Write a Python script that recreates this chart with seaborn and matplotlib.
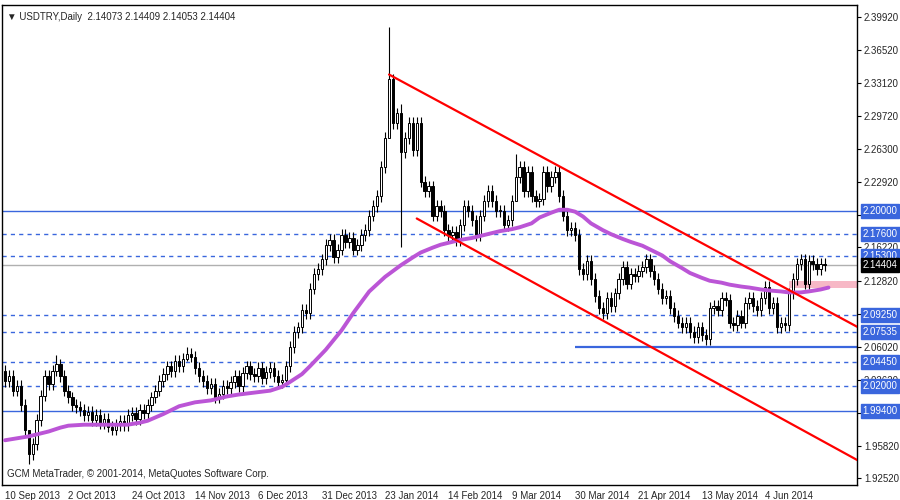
import numpy as np
import pandas as pd
import matplotlib
matplotlib.use("Agg")
import matplotlib.pyplot as plt
import seaborn as sns

# daily closes, USDTRY (one per bar)
closes = [
    2.025, 2.030, 2.015, 2.020, 2.000, 1.975, 1.950, 1.960, 1.985, 2.010,
    2.030, 2.022, 2.035, 2.042, 2.030, 2.015, 2.008, 2.000, 1.998, 1.995,
    1.990, 1.993, 1.985, 1.990, 1.982, 1.986, 1.978, 1.975, 1.980, 1.984,
    1.980, 1.990, 1.992, 1.986, 1.995, 1.992, 2.000, 2.008, 2.015, 2.025,
    2.032, 2.040, 2.035, 2.046, 2.040, 2.048, 2.053, 2.050, 2.038, 2.030,
    2.025, 2.018, 2.022, 2.008, 2.012, 2.020, 2.018, 2.024, 2.030, 2.020,
    2.033, 2.040, 2.032, 2.030, 2.038, 2.028, 2.034, 2.038, 2.030, 2.024,
    2.026, 2.040, 2.060, 2.075, 2.080, 2.098, 2.095, 2.120, 2.135, 2.140,
    2.150, 2.165, 2.170, 2.152, 2.160, 2.175, 2.168, 2.172, 2.160, 2.165,
    2.175, 2.180, 2.195, 2.205, 2.215, 2.245, 2.275, 2.335, 2.290, 2.300,
    2.260, 2.275, 2.290, 2.262, 2.290, 2.230, 2.220, 2.225, 2.195, 2.205,
    2.200, 2.180, 2.175, 2.178, 2.170, 2.185, 2.205, 2.200, 2.190, 2.175,
    2.195, 2.210, 2.220, 2.210, 2.200, 2.200, 2.185, 2.190, 2.210, 2.235,
    2.245, 2.220, 2.240, 2.215, 2.210, 2.212, 2.240, 2.225, 2.235, 2.240,
    2.215, 2.195, 2.180, 2.182, 2.175, 2.140, 2.135, 2.148, 2.130, 2.112,
    2.100, 2.095, 2.110, 2.102, 2.115, 2.130, 2.142, 2.125, 2.135, 2.133,
    2.138, 2.142, 2.150, 2.138, 2.130, 2.120, 2.110, 2.112, 2.100, 2.092,
    2.085, 2.080, 2.085, 2.075, 2.070, 2.080, 2.072, 2.068, 2.100, 2.102,
    2.098, 2.110, 2.108, 2.085, 2.082, 2.092, 2.085, 2.105, 2.110, 2.102,
    2.098, 2.110, 2.122, 2.100, 2.105, 2.080, 2.085, 2.082, 2.115, 2.130,
    2.145, 2.150, 2.125, 2.148, 2.145, 2.140, 2.145, 2.14404,
]
first_open = 2.035
wick = 0.006
# bars with long wicks: index -> (high, low)
spikes = {6: (1.965, 1.940), 97: (2.389, 2.300), 100: (2.310, 2.163),
          13: (2.052, 2.030), 46: (2.060, 2.045), 129: (2.258, 2.215)}

# moving average: (bar index, value)
ma_bars = [0, 3, 6, 9, 11, 14, 16, 20, 24, 28, 31, 34, 36, 40, 44, 48, 52, 56, 59, 63,
           67, 70, 72, 75, 77, 81, 85, 88, 92, 96, 100, 103, 105, 108, 110, 113,
           115, 118, 120, 123, 125, 128, 130, 133, 135, 138, 140, 142, 144, 146,
           148, 151, 153, 156, 158, 161, 163, 166, 168, 171, 173, 176, 178, 181,
           183, 186, 188, 191, 193, 196, 198, 201, 203, 206, 208]
ma_vals = [1.964, 1.966, 1.968, 1.971, 1.973, 1.977, 1.979, 1.980, 1.980, 1.980,
           1.980, 1.982, 1.984, 1.991, 1.999, 2.003, 2.005, 2.009, 2.011, 2.013,
           2.015, 2.019, 2.024, 2.032, 2.040, 2.057, 2.077, 2.095, 2.117, 2.132,
           2.144, 2.152, 2.157, 2.162, 2.165, 2.168, 2.170, 2.172, 2.174, 2.177,
           2.179, 2.181, 2.183, 2.187, 2.193, 2.198, 2.201, 2.201, 2.199, 2.194,
           2.187, 2.180, 2.176, 2.171, 2.168, 2.164, 2.160, 2.154, 2.148, 2.141,
           2.136, 2.131, 2.128, 2.126, 2.124, 2.122, 2.121, 2.119, 2.118, 2.117,
           2.116, 2.116, 2.117, 2.119, 2.121]

date_pos = [0, 16, 32, 48, 64, 80, 96, 112, 128, 144, 160, 176, 192]
date_labels = ["10 Sep 2013", "2 Oct 2013", "24 Oct 2013", "14 Nov 2013", "6 Dec 2013",
               "31 Dec 2013", "23 Jan 2014", "14 Feb 2014", "9 Mar 2014", "30 Mar 2014",
               "21 Apr 2014", "13 May 2014", "4 Jun 2014"]

price_ticks = [2.39920, 2.36520, 2.33120, 2.29720, 2.26300, 2.22920, 2.19520, 2.16220,
               2.12820, 2.09420, 2.06020, 2.02620, 1.99220, 1.95820, 1.92520]
dashed_levels = [2.17600, 2.15300, 2.09250, 2.07535, 2.04450, 2.02000]
solid_levels = [2.20000, 1.99400]
support_level = 2.06020
last_price = 2.14404

upper_channel = ([97, 216], [2.340, 2.079])
lower_channel = ([104, 216], [2.192, 1.942])

sns.set_style("white")
plt.rcParams['font.family'] = ['Liberation Sans', 'DejaVu Sans']
fs = 7

n = len(closes)
opens = [first_open] + closes[:-1]
highs, lows = [], []
for i in range(n):
    hi, lo = max(opens[i], closes[i]) + wick, min(opens[i], closes[i]) - wick
    if i in spikes:
        hi, lo = spikes[i]
    highs.append(hi)
    lows.append(lo)
df = pd.DataFrame({"bar": range(n), "open": opens, "close": closes, "high": highs, "low": lows})

fig = plt.figure(figsize=(9, 5), dpi=100)
ax = fig.add_axes([2 / 900, 15 / 500, 855 / 900, 480 / 500])
ax.set_xlim(-0.76, 215.2)
ax.set_ylim(1.9180, 2.4115)

blue = "#3a66dd"
for lv in solid_levels:
    ax.axhline(lv, color=blue, lw=1, zorder=1)
for lv in dashed_levels:
    ax.axhline(lv, color=blue, lw=1, ls=(0, (3, 3)), zorder=1)
ax.hlines(support_level, 144, 216, color=blue, lw=1.6, zorder=1)
ax.axhline(last_price, color="#b0b0b0", lw=1, zorder=1)

ax.fill_between([198, 216], 2.1205, 2.1275, color="#f7b8c6", lw=0, zorder=2)

ax.vlines(df["bar"], df["low"], df["high"], color="black", lw=0.8, zorder=3)
up = df[df["close"] >= df["open"]]
dn = df[df["close"] < df["open"]]
ax.bar(up["bar"], (up["close"] - up["open"]).clip(lower=0.0008), bottom=up["open"],
       width=0.6, color="white", edgecolor="black", lw=0.7, zorder=4)
ax.bar(dn["bar"], dn["open"] - dn["close"], bottom=dn["close"],
       width=0.6, color="black", edgecolor="black", lw=0.7, zorder=4)

ma = pd.DataFrame({"bar": ma_bars, "ma": ma_vals})
sns.lineplot(data=ma, x="bar", y="ma", ax=ax, color="#bb55d6", lw=2.8, zorder=5)

ax.plot(*upper_channel, color="red", lw=1.6, zorder=6)
ax.plot(*lower_channel, color="red", lw=1.6, zorder=6)

ax.yaxis.tick_right()
ax.set_yticks(price_ticks)
ax.set_yticklabels([f"{p:.5f}" for p in price_ticks], fontsize=fs)
ax.set_xticks(date_pos)
ax.set_xticklabels(date_labels, fontsize=fs, ha="left")
ax.tick_params(axis="both", length=3, pad=2, direction="out", color="black")
ax.tick_params(axis="x", pad=1)
ax.set_xlabel("")
ax.set_ylabel("")
for s in ax.spines.values():
    s.set_color("black")
    s.set_linewidth(1)

for lv in solid_levels + dashed_levels:
    ax.annotate(f"{lv:.5f}", xy=(1, lv), xycoords=("axes fraction", "data"), xytext=(4, 0),
                textcoords="offset points", va="center", ha="left", fontsize=fs, color="white",
                bbox=dict(boxstyle="square,pad=0.2", fc=blue, ec=blue), annotation_clip=False,
                zorder=10)
ax.annotate(f"{last_price:.5f}", xy=(1, last_price), xycoords=("axes fraction", "data"),
            xytext=(4, 0), textcoords="offset points", va="center", ha="left", fontsize=fs,
            color="white", bbox=dict(boxstyle="square,pad=0.2", fc="black", ec="black"),
            annotation_clip=False, zorder=10)

ax.text(0.006, 0.985, "\u25bc USDTRY,Daily  2.14073 2.14409 2.14053 2.14404",
        transform=ax.transAxes, fontsize=fs, va="top", ha="left")
ax.text(0.006, 0.012, "GCM MetaTrader, \u00a9 2001-2014, MetaQuotes Software Corp.",
        transform=ax.transAxes, fontsize=fs, va="bottom", ha="left")

fig.savefig("out.png", dpi=100)
